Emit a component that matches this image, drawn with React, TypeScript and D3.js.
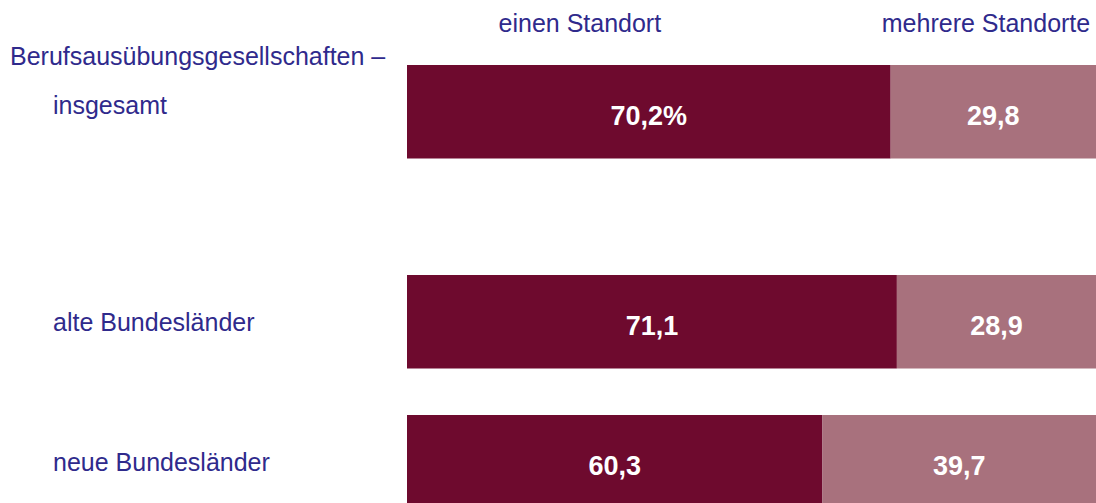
import * as d3 from 'd3'

// row groups; a half-row gap separates the groups
const groups = [['insgesamt'], ['alte Bundesländer', 'neue Bundesländer']]
const series = ['einen Standort', 'mehrere Standorte']
const einen = [70.2, 71.1, 60.3]
const mehrere = [29.8, 28.9, 39.7]

const W = 1096
const H = 503
const textBlue = '#2f2a8c'
const colors = ['#6e0a2e', '#a8717d']

export default function App() {
  const rows = groups.flatMap((g, gi) =>
    g.map((label, i) => ({ label, slot: gi * 1.5 + i }))
  ).map((r, i) => ({ ...r, values: [einen[i], mehrere[i]] }))

  const x = d3.scaleLinear().domain([0, 100]).range([407, 1096])
  const y = d3.scaleLinear().domain([0, 2.5]).range([111.75, 461.75])
  const barH = 93.5

  const stackData = rows.map(r => ({ [series[0]]: r.values[0], [series[1]]: r.values[1] }))
  const stacked = d3.stack<any>().keys(series)(stackData)

  const fmt = (v: number) => v.toFixed(1).replace('.', ',')
  const font = '"Liberation Sans", Arial, sans-serif'

  return (
    <svg width={W} height={H} style={{ position: 'absolute', left: 0, top: 0, fontFamily: font }}>
      <rect width={W} height={H} fill="#fff" />

      {/* column headers */}
      {stacked.map((s, si) => {
        const first = s[0]
        const cx = si === 0 ? (x(first[0]) + x(first[1])) / 2 - 69 : x(100) - 110
        return (
          <text key={si} x={cx} y={32} textAnchor="middle" fontSize={25} fill={textBlue}>
            {series[si]}
          </text>
        )
      })}

      {/* group heading */}
      <text x={10} y={y(0) - 47} fontSize={25} fill={textBlue}>
        Berufsausübungsgesellschaften –
      </text>

      {rows.map((r, i) => (
        <text key={r.label} x={53} y={y(r.slot) + (i === 0 ? 2.5 : 9.5)} fontSize={25} fill={textBlue}>
          {r.label}
        </text>
      ))}

      {stacked.map((s, si) => (
        <g key={series[si]}>
          {s.map((d, i) => (
            <g key={i}>
              <rect
                x={x(d[0])}
                y={y(rows[i].slot) - barH / 2}
                width={x(d[1]) - x(d[0])}
                height={barH}
                fill={colors[si]}
              />
              <text
                x={(x(d[0]) + x(d[1])) / 2}
                y={y(rows[i].slot) + 13}
                textAnchor="middle"
                fontSize={27}
                fontWeight="bold"
                fill="#fff"
              >
                {fmt(d[1] - d[0]) + (i === 0 && si === 0 ? '%' : '')}
              </text>
            </g>
          ))}
        </g>
      ))}
    </svg>
  )
}
